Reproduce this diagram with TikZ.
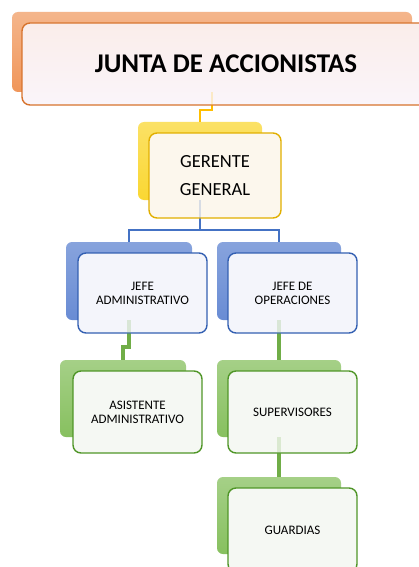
\documentclass[tikz,border=0pt]{standalone}
\usepackage{fontspec}
\setmainfont{Carlito}
\begin{document}
\begin{tikzpicture}[x=1pt,y=-1pt,
  back/.style={rounded corners=6pt, inner sep=0pt, draw=none},
  front/.style={rounded corners=8pt, inner sep=0pt, line width=1.4pt, align=center},
  orangeback/.style={back, top color=oback!70, bottom color=oback},
  yellowback/.style={back, top color=yback!75, bottom color=yback},
  blueback/.style={back, top color=bback!80, bottom color=bback},
  greenback/.style={back, top color=gback!75, bottom color=gback},
  orangefront/.style={front, draw=oline, top color=ofill, bottom color=white!96!violet},
  yellowfront/.style={front, draw=yline, fill=yfill},
  bluefront/.style={front, draw=bline, fill=bfill},
  greenfront/.style={front, draw=gline, fill=gfill},
  yconn/.style={draw=yconnc, line width=2pt},
  bconn/.style={draw=bconnc, line width=2.6pt},
  gconn/.style={draw=gconnc, line width=3.2pt},
  small/.style={font=\fontsize{13}{14}\selectfont}
]
\definecolor{oback}{RGB}{240,150,90}
\definecolor{oline}{RGB}{215,115,45}
\definecolor{ofill}{RGB}{250,237,234}
\definecolor{yback}{RGB}{250,215,50}
\definecolor{yline}{RGB}{225,175,0}
\definecolor{yfill}{RGB}{252,247,237}
\definecolor{yconnc}{RGB}{255,190,0}
\definecolor{bback}{RGB}{105,140,212}
\definecolor{bline}{RGB}{52,96,178}
\definecolor{bfill}{RGB}{244,245,251}
\definecolor{bconnc}{RGB}{68,114,196}
\definecolor{gback}{RGB}{135,192,95}
\definecolor{gline}{RGB}{80,150,40}
\definecolor{gfill}{RGB}{245,248,243}
\definecolor{gconnc}{RGB}{112,173,71}

\useasboundingbox (0,0) rectangle (419,567);
\fill[white] (0,0) rectangle (419,567);

% back boxes
\node[orangeback, minimum width=400, minimum height=80] (jback) at (212,52) {};
\node[yellowback, minimum width=124, minimum height=78] (gback) at (200,161) {};
\node[blueback, minimum width=126, minimum height=78] (jaback) at (129,281) {};
\node[blueback, minimum width=124, minimum height=78] (joback) at (279,281) {};
\node[greenback, minimum width=126, minimum height=77] (asback) at (123,398.5) {};
\node[greenback, minimum width=124, minimum height=77] (supback) at (279,398.5) {};
\node[greenback, minimum width=124, minimum height=77] (guback) at (279,515.5) {};

% connectors
\coordinate (y1) at (212,110);
\coordinate (b1) at (200,230);
\coordinate (g1) at (129,347);
\draw[yconn] (jback.south) -- (y1) -| (gback.north);
\draw[bconn] (gback.south) -- (b1);
\draw[bconn] (jaback.north) |- (b1) -| (joback.north);
\draw[gconn] (jaback.south) -- (g1) -| (asback.north);
\draw[gconn] (joback.south) -- (supback.north);
\draw[gconn] (supback.south) -- (guback.north);

% front boxes
\node[orangefront, minimum width=408, minimum height=82,
  font=\bfseries\fontsize{27}{30}\selectfont] (junta) at (226,64) {JUNTA DE ACCIONISTAS};
\node[yellowfront, minimum width=132, minimum height=85,
  font=\fontsize{18.5}{28}\selectfont] (gerente) at (215,175.5) {GERENTE\\GENERAL};
\node[bluefront, small, minimum width=129, minimum height=80] (ja) at (142.5,293) {JEFE\\ADMINISTRATIVO};
\node[bluefront, small, minimum width=129, minimum height=80] (jo) at (292.5,293) {JEFE DE\\OPERACIONES};
\node[greenfront, small, minimum width=129, minimum height=82] (as) at (137.5,412) {ASISTENTE\\ADMINISTRATIVO};
\node[greenfront, small, minimum width=129, minimum height=82] (sup) at (292.5,412) {SUPERVISORES};
\node[greenfront, small, minimum width=129, minimum height=84] (gu) at (292.5,530) {GUARDIAS};

% faint connector parts seen through the front boxes
\begin{scope}[opacity=0.2]
\draw[yconn] (jback.south) -- (y1);
\draw[bconn] (gback.south) -- (b1);
\draw[gconn] (jaback.south) -- (g1);
\draw[gconn] (joback.south) -- (supback.north);
\draw[gconn] (supback.south) -- (guback.north);
\end{scope}
\end{tikzpicture}
\end{document}
